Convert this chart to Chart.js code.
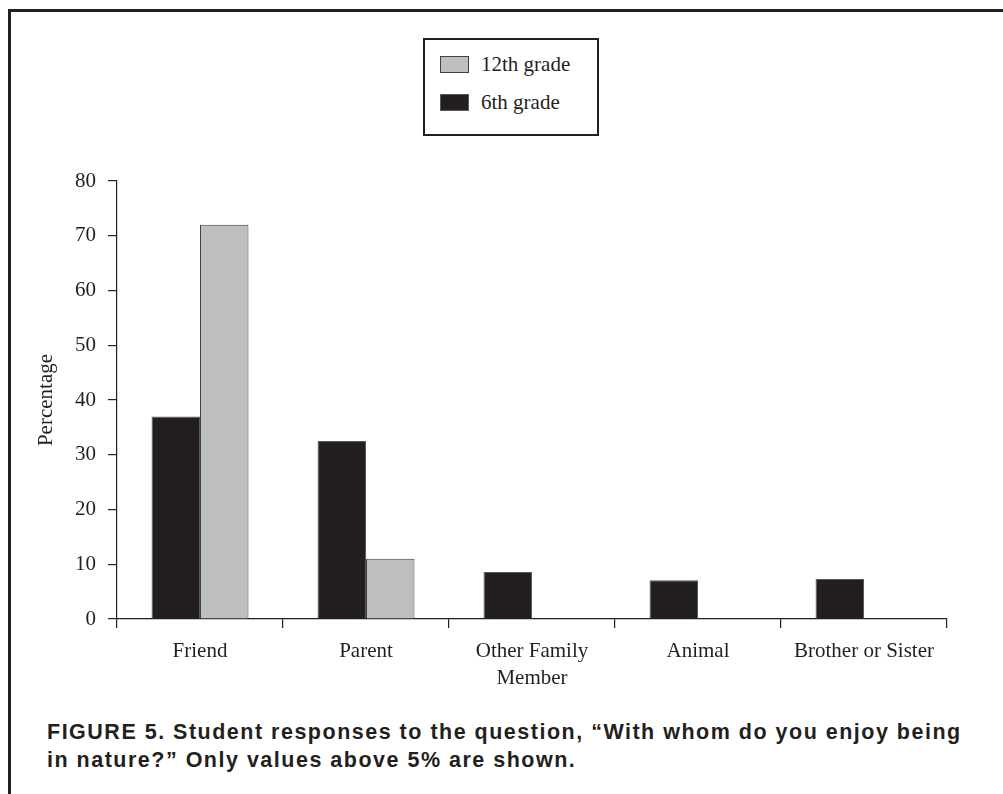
<!DOCTYPE html>
<html>
<head>
<meta charset="utf-8">
<script src="https://cdn.jsdelivr.net/npm/chart.js@4/dist/chart.umd.min.js"></script>
<style>
  html, body { margin: 0; padding: 0; background: #fff; }
  body { width: 1003px; height: 794px; position: relative; overflow: hidden; }
  #frame { position: absolute; left: 8px; top: 9px; width: 1000px; height: 800px;
           border-top: 3px solid #231f20; border-left: 3px solid #231f20; }
  #wrap { position: absolute; left: 0; top: 0; width: 1003px; height: 700px; }
  #legend { position: absolute; left: 423px; top: 38px; width: 172px; height: 94px;
            border: 2px solid #231f20; background: #fff; }
  .item { position: absolute; left: 15px; height: 20px; display: flex; align-items: center;
          font-family: "Liberation Serif", serif; font-size: 21px; color: #231f20; white-space: nowrap; }
  .sw { width: 27px; height: 15px; border: 1px solid #414042; margin-right: 12px; }
  #caption { position: absolute; left: 47px; top: 718px; width: 955px;
             font-family: "Liberation Sans", Arial, sans-serif; font-weight: bold; font-size: 21.5px;
             line-height: 28px; letter-spacing: 1.5px; color: #231f20; }
</style>
</head>
<body>
<div id="frame"></div>
<div id="wrap"><canvas id="c"></canvas></div>
<div id="legend"></div>
<div id="caption">FIGURE 5. Student responses to the question, “With whom do you enjoy being<br>in nature?” Only values above 5% are shown.</div>
<script>
// ---- data ----
const categories = ['Friend', 'Parent', ['Other Family', 'Member'], 'Animal', 'Brother or Sister'];
const grade6Label = '6th grade';
const grade12Label = '12th grade';
const grade6 = [37, 32.5, 8.6, 7.1, 7.3];
const grade12 = [72, 11, null, null, null];
const yMin = 0, yMax = 80, yStep = 10;
const yTitle = 'Percentage';

const color6 = '#231f20';
const color12 = '#bcbec0';
const ink = '#231f20';
const serif = '"Liberation Serif", "Times New Roman", serif';

const datasets = [
  { label: grade6Label, data: grade6, backgroundColor: color6, borderColor: '#58595b', borderWidth: 1 },
  { label: grade12Label, data: grade12, backgroundColor: color12, borderColor: '#414042', borderWidth: 1 }
];

new Chart(document.getElementById('c'), {
  type: 'bar',
  data: { labels: categories, datasets },
  options: {
    responsive: true,
    maintainAspectRatio: false,
    animation: false,
    layout: { padding: { left: 0, top: 181, right: 56, bottom: 0 } },
    datasets: { bar: { barPercentage: 1.0, categoryPercentage: 0.584 } },
    plugins: { legend: { display: false }, tooltip: { enabled: false } },
    scales: {
      x: {
        grid: { display: true, drawOnChartArea: false, drawTicks: true, tickLength: 9, color: ink, lineWidth: 1.2, offset: true },
        border: { display: true, color: ink, width: 1.2 },
        ticks: { color: ink, font: { family: serif, size: 21, lineHeight: 1.3 }, padding: 10, maxRotation: 0, autoSkip: false },
        afterFit: s => { s.height = 81; }
      },
      y: {
        min: yMin, max: yMax,
        grid: { display: true, drawOnChartArea: false, drawTicks: true, tickLength: 9, color: ink, lineWidth: 1.2 },
        border: { display: true, color: ink, width: 1.2 },
        ticks: { stepSize: yStep, color: ink, font: { family: serif, size: 21 }, padding: 12 },
        title: { display: true, text: yTitle, color: ink, font: { family: serif, size: 21 }, padding: { top: 34, bottom: 0 } },
        afterFit: s => { s.width = 117; }
      }
    }
  }
});

// legend (12th grade listed first)
const legendEl = document.getElementById('legend');
[datasets[1], datasets[0]].forEach((ds, i) => {
  const it = document.createElement('div');
  it.className = 'item';
  it.style.top = (14 + i * 38) + 'px';
  const sw = document.createElement('span');
  sw.className = 'sw';
  sw.style.background = ds.backgroundColor;
  sw.style.borderColor = ds.borderColor;
  it.appendChild(sw);
  it.appendChild(document.createTextNode(ds.label));
  legendEl.appendChild(it);
});
</script>
</body>
</html>
